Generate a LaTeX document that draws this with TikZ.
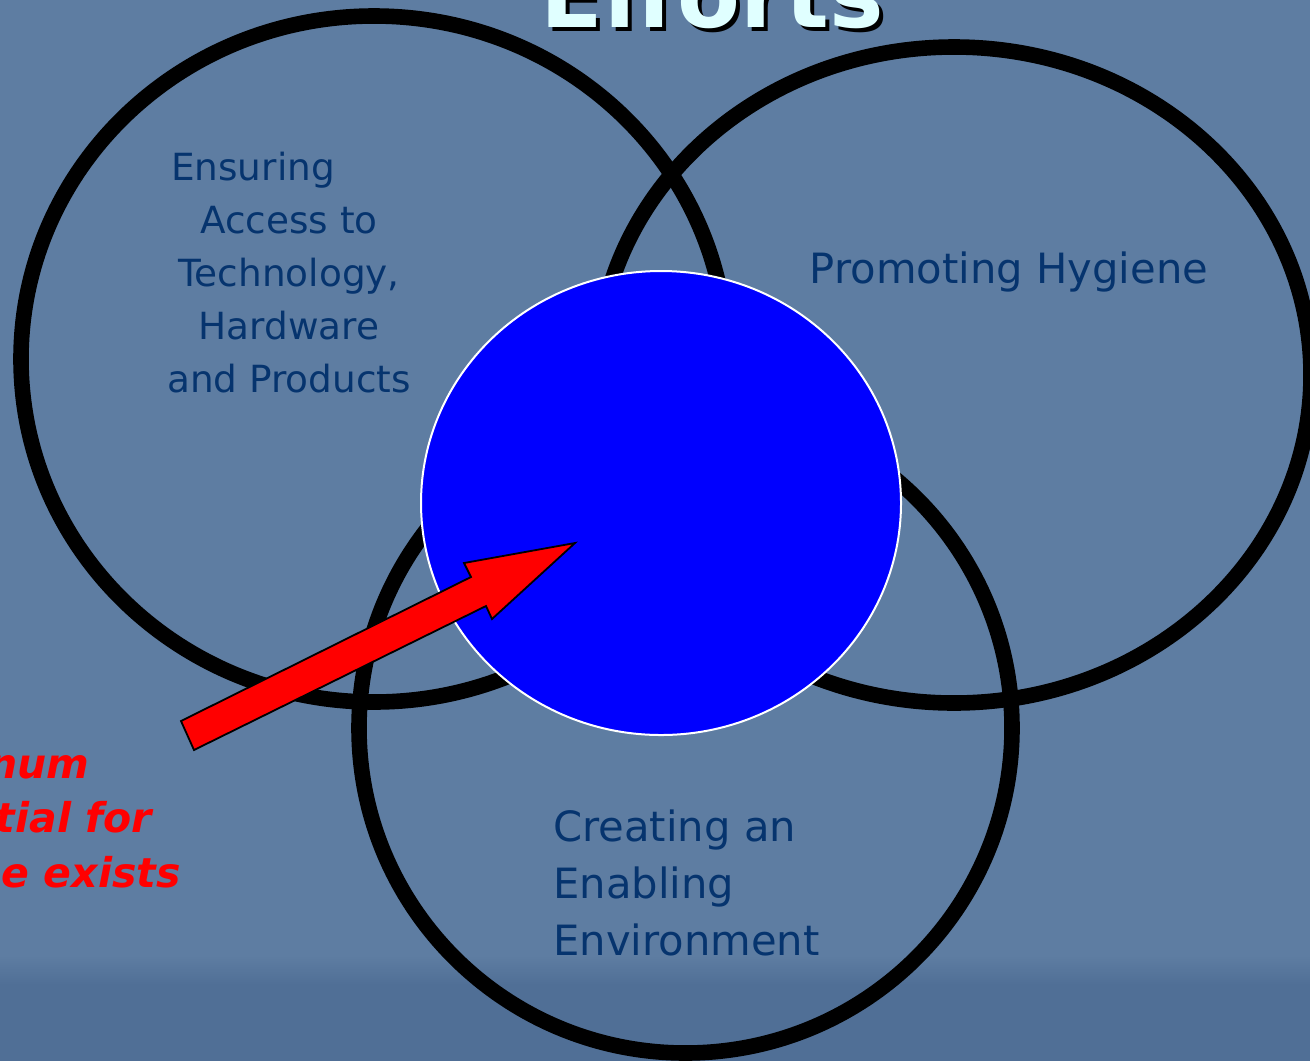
\documentclass[tikz,border=0pt]{standalone}
\usepackage{fontspec}
\setmainfont{DejaVu Sans}
\usetikzlibrary{shapes.geometric}
\definecolor{bgblue}{RGB}{94,125,162}
\definecolor{bgdark}{RGB}{80,111,150}
\definecolor{navy}{RGB}{6,52,110}
\definecolor{titlecyan}{RGB}{224,255,255}
\begin{document}
\begin{tikzpicture}[x=0.5pt,y=-0.5pt,
  ring/.style={ellipse, draw=black, line width=7.8pt, inner sep=0pt, outer sep=0pt},
  core/.style={ellipse, draw=white, line width=1pt, fill=blue, inner sep=0pt, outer sep=0pt},
  lbl/.style={text=navy, inner sep=0pt},
  redlbl/.style={text=red, inner sep=0pt, anchor=base east, font=\fontsize{20.5}{28}\selectfont\bfseries\itshape},
  blockarrow/.style={fill=red, draw=black, line width=0.9pt, line join=miter}
]
\useasboundingbox (0,0) rectangle (1310,1061);
\clip (0,0) rectangle (1310,1061);
% background
\fill[bgblue] (0,0) rectangle (1310,1061);
\shade[top color=bgblue, bottom color=bgdark] (0,955) rectangle (1310,985);
\fill[bgdark] (0,985) rectangle (1310,1061);
% title (cut at the top)
\node[anchor=base, inner sep=0pt, text=black, font=\fontsize{45.8}{50}\selectfont\bfseries] (titleshadow) at (716,31) {Efforts};
\node[anchor=base, inner sep=0pt, text=titlecyan, font=\fontsize{45.8}{50}\selectfont\bfseries] (title) at (712,27) {Efforts};
% rings
\node[ring, minimum width=353pt, minimum height=343pt] (A) at (374,359) {};
\node[ring, minimum width=357pt, minimum height=328pt] (B) at (954,375) {};
\node[ring, minimum width=326.5pt, minimum height=325pt] (C) at (685.5,728) {};
% centre
\node[core, minimum width=240pt, minimum height=232pt] (core) at (661,503) {};
% labels
\node[lbl, align=center, font=\fontsize{18.7}{26.5}\selectfont] (access) at (289,272.5)
  {Ensuring\hspace*{36pt}\\Access to\\Technology,\\Hardware\\and Products};
\node[lbl, anchor=base, font=\fontsize{20.85}{28.5}\selectfont] (hygiene) at (1009,283) {Promoting Hygiene};
\node[lbl, anchor=base west, font=\fontsize{20.85}{28.5}\selectfont] (enabling) at (553,841) {Creating an};
\node[lbl, anchor=base west, font=\fontsize{20.85}{28.5}\selectfont] (enabling2) at (553,898) {Enabling};
\node[lbl, anchor=base west, font=\fontsize{20.85}{28.5}\selectfont] (enabling3) at (553,955) {Environment};
% red text (cut at the left edge)
\node[redlbl] (red1) at (90,778) {num};
\node[redlbl] (red2) at (152,832) {tial for};
\node[redlbl] (red3) at (181,887) {e exists};
% arrow
\coordinate (tailA) at (181,721);
\coordinate (tailB) at (194,750);
\coordinate (tip) at (575,543);
\draw[blockarrow] (tailA) -- (471,577) -- (464,563) -- (tip) -- (492,619) -- (486,606) -- (tailB) -- cycle;
\end{tikzpicture}
\end{document}
